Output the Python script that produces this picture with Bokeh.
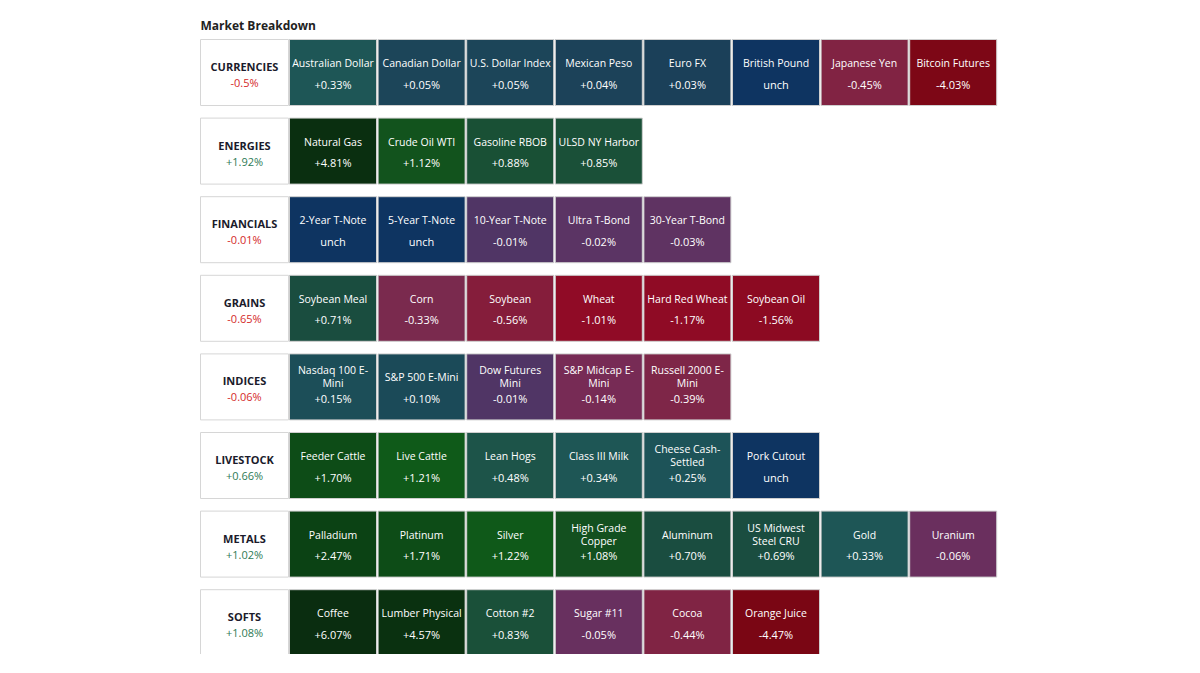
from bokeh.plotting import figure
from bokeh.models import Range1d, ColumnDataSource
from bokeh.core.properties import value
from bokeh.embed import file_html
from bokeh.resources import INLINE

# ---------------- data ----------------
groups = ["CURRENCIES", "ENERGIES", "FINANCIALS", "GRAINS",
          "INDICES", "LIVESTOCK", "METALS", "SOFTS"]
group_changes = [-0.5, 1.92, -0.01, -0.65, -0.06, 0.66, 1.02, 1.08]

currency_names = ["Australian Dollar", "Canadian Dollar", "U.S. Dollar Index", "Mexican Peso",
                  "Euro FX", "British Pound", "Japanese Yen", "Bitcoin Futures"]
currency_changes = [0.33, 0.05, 0.05, 0.04, 0.03, 0.0, -0.45, -4.03]

energy_names = ["Natural Gas", "Crude Oil WTI", "Gasoline RBOB", "ULSD NY Harbor"]
energy_changes = [4.81, 1.12, 0.88, 0.85]

financial_names = ["2-Year T-Note", "5-Year T-Note", "10-Year T-Note", "Ultra T-Bond", "30-Year T-Bond"]
financial_changes = [0.0, 0.0, -0.01, -0.02, -0.03]

grain_names = ["Soybean Meal", "Corn", "Soybean", "Wheat", "Hard Red Wheat", "Soybean Oil"]
grain_changes = [0.71, -0.33, -0.56, -1.01, -1.17, -1.56]

index_names = ["Nasdaq 100 E-\nMini", "S&P 500 E-Mini", "Dow Futures\nMini",
               "S&P Midcap E-\nMini", "Russell 2000 E-\nMini"]
index_changes = [0.15, 0.10, -0.01, -0.14, -0.39]

livestock_names = ["Feeder Cattle", "Live Cattle", "Lean Hogs", "Class III Milk",
                   "Cheese Cash-\nSettled", "Pork Cutout"]
livestock_changes = [1.70, 1.21, 0.48, 0.34, 0.25, 0.0]

metal_names = ["Palladium", "Platinum", "Silver", "High Grade\nCopper", "Aluminum",
               "US Midwest\nSteel CRU", "Gold", "Uranium"]
metal_changes = [2.47, 1.71, 1.22, 1.08, 0.70, 0.69, 0.33, -0.06]

soft_names = ["Coffee", "Lumber Physical", "Cotton #2", "Sugar #11", "Cocoa", "Orange Juice"]
soft_changes = [6.07, 4.57, 0.83, -0.05, -0.44, -4.47]

group_items = [
    (currency_names, currency_changes),
    (energy_names, energy_changes),
    (financial_names, financial_changes),
    (grain_names, grain_changes),
    (index_names, index_changes),
    (livestock_names, livestock_changes),
    (metal_names, metal_changes),
    (soft_names, soft_changes),
]

# ---------------- colour scale (style) ----------------
anchors = [
    (-4.5, "#7a0614"), (-1.5, "#8c0a22"), (-1.0, "#900b26"), (-0.5, "#84203e"),
    (-0.33, "#7a2a4e"), (-0.14, "#772b55"), (-0.05, "#68305f"), (-0.011, "#573565"),
    (-0.001, "#0e3461"), (0.0, "#0e3461"), (0.03, "#1b4059"), (0.05, "#1c4559"),
    (0.12, "#1b4c58"), (0.3, "#1e5658"), (0.48, "#1d5449"), (0.70, "#1a4d40"),
    (0.85, "#1a5038"), (1.08, "#13501f"), (1.2, "#0f5a19"), (1.7, "#0d4c17"),
    (2.5, "#0b4214"), (4.8, "#0a2f10"), (6.5, "#0a2c10"),
]


def hex2rgb(h):
    return tuple(int(h[i:i + 2], 16) for i in (1, 3, 5))


def colour_for(v):
    if v <= anchors[0][0]:
        return anchors[0][1]
    for (v0, c0), (v1, c1) in zip(anchors, anchors[1:]):
        if v0 <= v <= v1:
            t = 0 if v1 == v0 else (v - v0) / (v1 - v0)
            a, b = hex2rgb(c0), hex2rgb(c1)
            return "#%02x%02x%02x" % tuple(int(round(a[k] + (b[k] - a[k]) * t)) for k in range(3))
    return anchors[-1][1]


# ---------------- layout (style) ----------------
W, H = 1200, 654
label_left, label_right = 200, 288
cell_left0, cell_pitch, cell_w = 289, 88.6, 87
row_top0, row_pitch, row_h = 39, 78.6, 66
FONT = value("Open Sans")

p = figure(width=W, height=H, x_range=Range1d(0, W), y_range=Range1d(H, 0),
           output_backend="svg", toolbar_location=None, min_border=0,
           background_fill_color="white", border_fill_color="white", outline_line_color=None)
p.axis.visible = False
p.grid.visible = False

# title
p.text(x=[label_left], y=[25], text=["Market Breakdown"], text_font=FONT,
       text_font_size="12px", text_font_style="bold", text_color="#222222",
       text_baseline="middle", text_align="left")

# group label boxes
lb = dict(left=[], right=[], top=[], bottom=[])
gname = dict(x=[], y=[], text=[])
gchg = dict(x=[], y=[], text=[], color=[])
for r, (g, gc) in enumerate(zip(groups, group_changes)):
    top = row_top0 + r * row_pitch
    lb["left"].append(label_left)
    lb["right"].append(label_right)
    lb["top"].append(top)
    lb["bottom"].append(top + row_h)
    cx = (label_left + label_right) / 2
    gname["x"].append(cx); gname["y"].append(top + 27); gname["text"].append(g)
    gchg["x"].append(cx); gchg["y"].append(top + 43); gchg["text"].append(f"{gc:+g}%")
    gchg["color"].append("#d42a2a" if gc < 0 else "#2e7a55")

p.quad(source=ColumnDataSource(lb), left="left", right="right", top="top", bottom="bottom",
       fill_color="white", line_color="#d6d6d6", line_width=1)
p.text(source=ColumnDataSource(gname), x="x", y="y", text="text", text_font=FONT,
       text_font_size="11px", text_font_style="bold", text_color="#1b1b2b",
       text_align="center", text_baseline="middle")
p.text(source=ColumnDataSource(gchg), x="x", y="y", text="text", text_font=FONT,
       text_font_size="11px", text_color="color",
       text_align="center", text_baseline="middle")

# cells
cells = dict(left=[], right=[], top=[], bottom=[], color=[])
names = dict(x=[], y=[], text=[])
vals = dict(x=[], y=[], text=[])
for r, (nm, ch) in enumerate(group_items):
    top = row_top0 + r * row_pitch
    for i, (n, c) in enumerate(zip(nm, ch)):
        left = cell_left0 + i * cell_pitch
        cells["left"].append(left)
        cells["right"].append(left + cell_w)
        cells["top"].append(top)
        cells["bottom"].append(top + row_h)
        cells["color"].append(colour_for(c))
        cx = left + cell_w / 2
        lines = n.split("\n")
        ys = [top + 23.5] if len(lines) == 1 else [top + 16.5, top + 29.5]
        for ln, yy in zip(lines, ys):
            names["x"].append(cx); names["y"].append(yy); names["text"].append(ln)
        vals["x"].append(cx); vals["y"].append(top + 44.5)
        vals["text"].append("unch" if c == 0 else f"{c:+.2f}%")

p.quad(source=ColumnDataSource(cells), left="left", right="right", top="top", bottom="bottom",
       fill_color="color", line_color="#cfcfcf", line_width=1)
p.text(source=ColumnDataSource(names), x="x", y="y", text="text", text_font=FONT,
       text_font_size="10.5px", text_color="white", text_align="center", text_baseline="middle")
p.text(source=ColumnDataSource(vals), x="x", y="y", text="text", text_font=FONT,
       text_font_size="11px", text_color="white", text_align="center", text_baseline="middle")

open("out.html", "w").write(file_html(p, INLINE))
